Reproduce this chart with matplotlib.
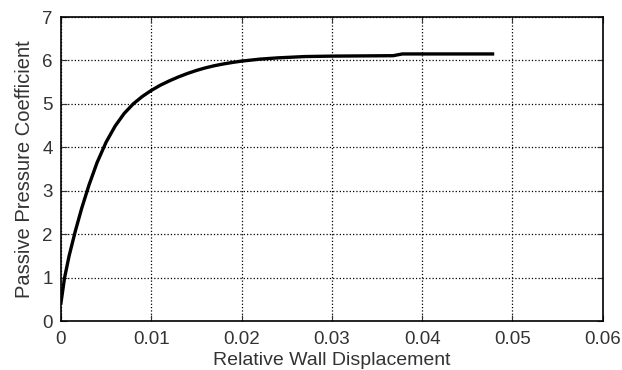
import matplotlib
matplotlib.use("Agg")
import matplotlib.pyplot as plt

disp = [0, 0.0004, 0.0009, 0.0016, 0.0023, 0.0031, 0.0040, 0.0050, 0.0060, 0.0070,
        0.0080, 0.009, 0.010, 0.011, 0.012, 0.013, 0.014, 0.015, 0.016, 0.017,
        0.018, 0.019, 0.020, 0.022, 0.024, 0.027, 0.030, 0.0368, 0.0378, 0.042, 0.0478]
kp = [0.42, 1.0, 1.5, 2.08, 2.6, 3.13, 3.65, 4.12, 4.49, 4.78,
      5.0, 5.17, 5.31, 5.43, 5.53, 5.62, 5.7, 5.77, 5.83, 5.88,
      5.92, 5.955, 5.985, 6.03, 6.06, 6.09, 6.10, 6.11, 6.15, 6.15, 6.15]
xticks = [0, 0.01, 0.02, 0.03, 0.04, 0.05, 0.06]
xticklabels = ["0", "0.01", "0.02", "0.03", "0.04", "0.05", "0.06"]
yticks = [0, 1, 2, 3, 4, 5, 6, 7]

plt.rcParams['font.family'] = ['Liberation Sans', 'DejaVu Sans']
fig = plt.figure(figsize=(6.22, 3.70), dpi=100)
ax = fig.add_axes([0.098, 0.132, 0.871, 0.822])
ax.plot(disp, kp, color='black', linewidth=2.4, solid_joinstyle='round')
ax.set_xlim(0, 0.06)
ax.set_ylim(0, 7)
ax.set_xticks(xticks)
ax.set_xticklabels(xticklabels)
ax.set_yticks(yticks)
ax.grid(True, color='black', linestyle=':', linewidth=0.9)
ax.tick_params(direction='in', labelsize=13.5, colors='#333333', length=4,
               top=True, right=True)
ax.tick_params(axis='x', pad=7)
ax.tick_params(axis='y', pad=6)
for s in ax.spines.values():
    s.set_linewidth(1.2)
ax.set_xlabel('Relative Wall Displacement', fontsize=14, color='#333333', labelpad=3)
ax.set_ylabel('Passive Pressure Coefficient', fontsize=14.5, color='#333333', labelpad=6)
fig.savefig('out.png', dpi=100)
